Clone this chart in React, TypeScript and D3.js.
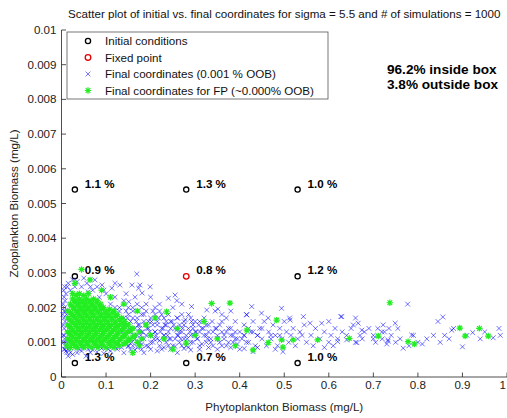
import React from "react";
import * as d3 from "d3";

// ---------- data ----------
const titleText =
  "Scatter plot of initial vs. final coordinates for sigma = 5.5 and # of simulations = 1000";
const xTicks = [0, 0.1, 0.2, 0.3, 0.4, 0.5, 0.6, 0.7, 0.8, 0.9, 1];
const yTicks = [0, 0.001, 0.002, 0.003, 0.004, 0.005, 0.006, 0.007, 0.008, 0.009, 0.01];

const initialPoints: [number, number][] = [
  [0.03, 0.0054], [0.28, 0.0054], [0.53, 0.0054],
  [0.03, 0.0029], [0.53, 0.0029],
  [0.03, 0.0004], [0.28, 0.0004], [0.53, 0.0004],
];
const fixedPoint: [number, number][] = [[0.28, 0.0029]];

const pctLabels: [number, number, string][] = [
  [0.03, 0.0054, "1.1 %"], [0.28, 0.0054, "1.3 %"], [0.53, 0.0054, "1.0 %"],
  [0.03, 0.0029, "0.9 %"], [0.28, 0.0029, "0.8 %"], [0.53, 0.0029, "1.2 %"],
  [0.03, 0.0004, "1.3 %"], [0.28, 0.0004, "0.7 %"], [0.53, 0.0004, "1.0 %"],
];

const summaryLines = ["96.2% inside box", "3.8% outside box"];
const legendLabels = [
  "Initial conditions",
  "Fixed point",
  "Final coordinates (0.001 % OOB)",
  "Final coordinates for FP (~0.000% OOB)",
];

const finalPoints: [number, number][] = [
  // left fringe
  [0.006, 0.0012], [0.008, 0.0016], [0.007, 0.002], [0.01, 0.0024], [0.009, 0.0009], [0.012, 0.0007],
  [0.011, 0.0018], [0.013, 0.0026], [0.006, 0.0014], [0.008, 0.0022], [0.01, 0.001], [0.012, 0.0013],
  [0.005, 0.0017], [0.007, 0.0011], [0.009, 0.0019], [0.006, 0.0023],
  [0.004, 0.0015], [0.005, 0.001], [0.006, 0.0019], [0.007, 0.0026], [0.004, 0.0021], [0.008, 0.0008],
  [0.015, 0.0006], [0.005, 0.0025], [0.004, 0.0012], [0.006, 0.0008], [0.003, 0.0018],
  // top fringe
  [0.015, 0.0027], [0.025, 0.0028], [0.035, 0.00275], [0.045, 0.0026], [0.057, 0.0027], [0.07, 0.0025],
  [0.08, 0.0026], [0.091, 0.00265], [0.1, 0.0024], [0.113, 0.00256], [0.12, 0.0023], [0.131, 0.00265],
  [0.14, 0.0022], [0.151, 0.00217], [0.158, 0.00265], [0.169, 0.00297], [0.173, 0.00256], [0.181, 0.00242],
  [0.176, 0.00265], [0.199, 0.0026], [0.02, 0.0025], [0.04, 0.0024], [0.06, 0.00245], [0.085, 0.0023],
  [0.11, 0.0021], [0.13, 0.002], [0.16, 0.002], [0.19, 0.0021], [0.05, 0.00285], [0.075, 0.0028],
  [0.12, 0.0027], [0.03, 0.0026], [0.065, 0.0026], [0.095, 0.0025], [0.145, 0.0024], [0.165, 0.0023],
  // bottom fringe
  [0.015, 0.0008], [0.025, 0.00065], [0.035, 0.0007], [0.045, 0.00075], [0.055, 0.0006], [0.065, 0.0007],
  [0.08, 0.00072], [0.095, 0.00068], [0.11, 0.00075], [0.125, 0.0008], [0.14, 0.0007], [0.155, 0.00078],
  [0.17, 0.00085], [0.185, 0.0007], [0.2, 0.0008], [0.215, 0.00075], [0.23, 0.00085], [0.245, 0.0008],
  [0.26, 0.0007], [0.275, 0.00082], [0.29, 0.00078], [0.03, 0.00085], [0.06, 0.0008], [0.09, 0.00082],
  [0.12, 0.00088], [0.02, 0.0007], [0.05, 0.00088], [0.1, 0.00085], [0.15, 0.00088], [0.18, 0.0008],
  [0.01, 0.00075], [0.04, 0.0008], [0.07, 0.00078], [0.085, 0.0009], [0.105, 0.0008], [0.135, 0.00085],
  [0.165, 0.00078], [0.195, 0.00088], [0.225, 0.0008], [0.255, 0.00088], [0.285, 0.00086], [0.31, 0.0008],
  [0.33, 0.00085], [0.35, 0.0008], [0.38, 0.00085], [0.41, 0.00082],
  // core mid band
  [0.13, 0.0011], [0.14, 0.0015], [0.145, 0.0019], [0.15, 0.0009], [0.155, 0.0013], [0.16, 0.0017],
  [0.165, 0.0011], [0.17, 0.0021], [0.175, 0.0014], [0.18, 0.00095], [0.185, 0.0018], [0.19, 0.0012],
  [0.195, 0.0016], [0.2, 0.001], [0.205, 0.0019], [0.21, 0.0013], [0.215, 0.0015], [0.22, 0.00105],
  [0.225, 0.0018], [0.23, 0.0012], [0.235, 0.0016], [0.24, 0.0009], [0.245, 0.0014], [0.25, 0.002],
  [0.255, 0.0011], [0.26, 0.0017], [0.265, 0.0013], [0.27, 0.0009], [0.275, 0.0015], [0.28, 0.0012],
  [0.285, 0.0018], [0.29, 0.001], [0.295, 0.0014], [0.3, 0.0016], [0.305, 0.0011], [0.31, 0.0013],
  [0.315, 0.00095], [0.32, 0.0017], [0.325, 0.0012], [0.33, 0.0015], [0.335, 0.001], [0.34, 0.0013],
  [0.345, 0.0019], [0.35, 0.0011],
  [0.135, 0.0013], [0.148, 0.0017], [0.158, 0.001], [0.168, 0.0016], [0.178, 0.0012], [0.188, 0.0015],
  [0.198, 0.0013], [0.208, 0.0011], [0.218, 0.0017], [0.228, 0.0014], [0.238, 0.0012], [0.248, 0.0016],
  [0.258, 0.00135], [0.268, 0.0011], [0.278, 0.00165], [0.288, 0.0013], [0.298, 0.0012], [0.308, 0.0015],
  [0.318, 0.0014], [0.328, 0.0011], [0.338, 0.0016], [0.348, 0.0014],
  [0.152, 0.0014], [0.162, 0.0012], [0.172, 0.0015], [0.182, 0.0013], [0.192, 0.0014], [0.202, 0.0016],
  [0.212, 0.0012], [0.222, 0.0013], [0.232, 0.0015], [0.242, 0.0011], [0.252, 0.0015], [0.262, 0.0012],
  [0.272, 0.0014], [0.282, 0.0011], [0.292, 0.0016], [0.302, 0.0013],
  [0.24, 0.00227], [0.255, 0.00236], [0.259, 0.0022], [0.292, 0.00203], [0.326, 0.00193], [0.351, 0.00196],
  [0.22, 0.0021], [0.2, 0.0023], [0.27, 0.0021],
  // dense band (second layer)
  [0.16, 0.0009], [0.19, 0.0009], [0.22, 0.0009], [0.25, 0.0009], [0.28, 0.0009], [0.31, 0.0009], [0.34, 0.0009], [0.37, 0.0009],
  [0.145, 0.001], [0.175, 0.001], [0.205, 0.001], [0.235, 0.001], [0.265, 0.001], [0.295, 0.001], [0.325, 0.001], [0.355, 0.001], [0.385, 0.001], [0.415, 0.001],
  [0.155, 0.0011], [0.185, 0.0011], [0.215, 0.0011], [0.245, 0.0011], [0.275, 0.0011], [0.305, 0.0011], [0.335, 0.0011], [0.365, 0.0011], [0.395, 0.0011],
  [0.14, 0.0012], [0.17, 0.0012], [0.2, 0.0012], [0.23, 0.0012], [0.26, 0.0012], [0.29, 0.0012], [0.32, 0.0012], [0.35, 0.0012], [0.38, 0.0012], [0.41, 0.0012], [0.44, 0.0012],
  [0.15, 0.0013], [0.18, 0.0013], [0.21, 0.0013], [0.24, 0.0013], [0.27, 0.0013], [0.3, 0.0013], [0.33, 0.0013], [0.36, 0.0013], [0.39, 0.0013],
  [0.165, 0.0014], [0.195, 0.0014], [0.225, 0.0014], [0.255, 0.0014], [0.285, 0.0014], [0.315, 0.0014], [0.345, 0.0014], [0.375, 0.0014], [0.42, 0.0014],
  [0.145, 0.0015], [0.175, 0.0015], [0.205, 0.0015], [0.235, 0.0015], [0.265, 0.0015], [0.295, 0.0015], [0.325, 0.0015],
  [0.155, 0.0016], [0.185, 0.0016], [0.215, 0.0016], [0.245, 0.0016], [0.275, 0.0016], [0.31, 0.0016], [0.36, 0.0016],
  [0.14, 0.0017], [0.17, 0.0017], [0.2, 0.0017], [0.23, 0.0017], [0.26, 0.0017], [0.29, 0.0017],
  [0.15, 0.0018], [0.18, 0.0018], [0.21, 0.0018], [0.24, 0.0018], [0.27, 0.0018],
  [0.13, 0.0019], [0.16, 0.0019], [0.19, 0.0019], [0.22, 0.0019],
  [0.12, 0.002], [0.15, 0.002], [0.18, 0.002], [0.21, 0.002],
  // middle region
  [0.355, 0.0015], [0.36, 0.0009], [0.365, 0.0012], [0.37, 0.0017], [0.375, 0.001], [0.38, 0.0014],
  [0.385, 0.0012], [0.39, 0.0016], [0.395, 0.00095], [0.4, 0.0013], [0.405, 0.0011], [0.41, 0.0015],
  [0.415, 0.0018], [0.42, 0.001], [0.425, 0.0013], [0.427, 0.00203], [0.43, 0.0016], [0.435, 0.0009],
  [0.44, 0.0012], [0.445, 0.0014], [0.449, 0.00184], [0.45, 0.0011], [0.455, 0.0016], [0.46, 0.0009],
  [0.464, 0.0017], [0.465, 0.0013], [0.47, 0.0011], [0.475, 0.0015], [0.48, 0.0012], [0.485, 0.0009],
  [0.49, 0.0014], [0.495, 0.0011], [0.5, 0.0016], [0.505, 0.0013], [0.51, 0.001], [0.513, 0.00164],
  [0.515, 0.0012], [0.52, 0.0014], [0.525, 0.0009], [0.53, 0.0011], [0.535, 0.0013], [0.54, 0.0012],
  [0.545, 0.0015], [0.55, 0.001],
  [0.37, 0.0013], [0.39, 0.0011], [0.41, 0.0012], [0.43, 0.0013], [0.45, 0.0014], [0.47, 0.0012],
  [0.49, 0.0012], [0.416, 0.00179], [0.36, 0.0018], [0.38, 0.0019], [0.4, 0.0008], [0.44, 0.00085],
  [0.48, 0.0008], [0.494, 0.00198], [0.43, 0.00073], [0.497, 0.00073],
  // right tail
  [0.543, 0.00174], [0.558, 0.00155], [0.584, 0.00155], [0.512, 0.0017], [0.627, 0.00174], [0.777, 0.0021],
  [0.856, 0.00173], [0.845, 0.0016], [0.876, 0.00135], [0.982, 0.0014], [0.9, 0.00087], [0.767, 0.00083],
  [0.969, 0.00113], [0.923, 0.00128],
  [0.56, 0.0012], [0.565, 0.0009], [0.57, 0.0014], [0.58, 0.0011], [0.59, 0.0013], [0.6, 0.001],
  [0.605, 0.0012], [0.61, 0.0009], [0.62, 0.0011], [0.63, 0.0013], [0.64, 0.0012], [0.65, 0.0014],
  [0.655, 0.0015], [0.66, 0.001], [0.67, 0.0012], [0.675, 0.0011], [0.68, 0.0013], [0.69, 0.0014],
  [0.7, 0.0012], [0.705, 0.001], [0.71, 0.0014], [0.72, 0.0011], [0.725, 0.0013], [0.73, 0.00095],
  [0.74, 0.0012], [0.75, 0.001], [0.76, 0.0011], [0.78, 0.0009], [0.79, 0.0012], [0.8, 0.001],
  [0.81, 0.00095], [0.82, 0.0011], [0.835, 0.0012], [0.85, 0.001], [0.86, 0.0012], [0.87, 0.0011],
  [0.88, 0.0014], [0.91, 0.0012], [0.94, 0.0011], [0.95, 0.0013], [0.985, 0.0012], [0.6, 0.0016],
  [0.66, 0.0017], [0.59, 0.00085],
  [0.629, 0.00174], [0.614, 0.0014], [0.666, 0.00155], [0.674, 0.00135], [0.722, 0.0015], [0.735, 0.0014],
  [0.749, 0.00155], [0.755, 0.0014], [0.786, 0.00121], [0.64, 0.00107], [0.7, 0.0011], [0.733, 0.00107],
  [0.733, 0.00103], [0.719, 0.0013], [0.62, 0.00102], [0.663, 0.00099],
];

const fpFinalPoints: [number, number][] = [
  // dense core
  [0.02, 0.00085], [0.035, 0.00085], [0.05, 0.00085], [0.068, 0.00085], [0.082, 0.00085], [0.1, 0.00085], [0.118, 0.00085],
  [0.027, 0.00095], [0.043, 0.00095], [0.058, 0.00095], [0.075, 0.00095], [0.09, 0.00095], [0.108, 0.00095], [0.125, 0.00095], [0.14, 0.00095],
  [0.018, 0.00105], [0.033, 0.00105], [0.048, 0.00105], [0.064, 0.00105], [0.079, 0.00105], [0.095, 0.00105], [0.112, 0.00105], [0.13, 0.00105], [0.152, 0.00105],
  [0.025, 0.00115], [0.04, 0.00115], [0.055, 0.00115], [0.07, 0.00115], [0.086, 0.00115], [0.102, 0.00115], [0.12, 0.00115], [0.138, 0.00115], [0.16, 0.00115],
  [0.017, 0.00125], [0.032, 0.00125], [0.047, 0.00125], [0.062, 0.00125], [0.078, 0.00125], [0.093, 0.00125], [0.11, 0.00125], [0.127, 0.00125], [0.145, 0.00125],
  [0.024, 0.00135], [0.039, 0.00135], [0.054, 0.00135], [0.069, 0.00135], [0.085, 0.00135], [0.1, 0.00135], [0.117, 0.00135], [0.135, 0.00135], [0.155, 0.00135],
  [0.018, 0.00145], [0.033, 0.00145], [0.048, 0.00145], [0.063, 0.00145], [0.077, 0.00145], [0.092, 0.00145], [0.108, 0.00145], [0.125, 0.00145], [0.142, 0.00145],
  [0.026, 0.00155], [0.041, 0.00155], [0.056, 0.00155], [0.071, 0.00155], [0.087, 0.00155], [0.103, 0.00155], [0.12, 0.00155], [0.136, 0.00155],
  [0.019, 0.00165], [0.034, 0.00165], [0.049, 0.00165], [0.064, 0.00165], [0.08, 0.00165], [0.096, 0.00165], [0.113, 0.00165], [0.13, 0.00165],
  [0.027, 0.00175], [0.042, 0.00175], [0.057, 0.00175], [0.072, 0.00175], [0.088, 0.00175], [0.105, 0.00175], [0.122, 0.00175],
  [0.02, 0.00185], [0.035, 0.00185], [0.05, 0.00185], [0.066, 0.00185], [0.082, 0.00185], [0.098, 0.00185], [0.115, 0.00185],
  [0.028, 0.00195], [0.043, 0.00195], [0.058, 0.00195], [0.074, 0.00195], [0.09, 0.00195], [0.108, 0.00195],
  [0.022, 0.00205], [0.037, 0.00205], [0.052, 0.00205], [0.068, 0.00205], [0.085, 0.00205],
  [0.03, 0.00215], [0.046, 0.00215], [0.062, 0.00215], [0.079, 0.00215],
  [0.025, 0.00225], [0.04, 0.00225], [0.056, 0.00225], [0.072, 0.00225],
  [0.033, 0.00235], [0.05, 0.00235],
  // dense core, second layer
  [0.012, 0.0009], [0.03, 0.0009], [0.045, 0.0009], [0.06, 0.0009], [0.078, 0.0009], [0.093, 0.0009], [0.11, 0.0009], [0.13, 0.0009],
  [0.022, 0.001], [0.04, 0.001], [0.056, 0.001], [0.072, 0.001], [0.088, 0.001], [0.105, 0.001], [0.12, 0.001], [0.145, 0.001], [0.17, 0.001],
  [0.014, 0.0011], [0.032, 0.0011], [0.05, 0.0011], [0.066, 0.0011], [0.082, 0.0011], [0.098, 0.0011], [0.115, 0.0011], [0.132, 0.0011], [0.15, 0.0011], [0.18, 0.0011],
  [0.022, 0.0012], [0.04, 0.0012], [0.058, 0.0012], [0.074, 0.0012], [0.09, 0.0012], [0.106, 0.0012], [0.122, 0.0012], [0.14, 0.0012], [0.165, 0.0012],
  [0.014, 0.0013], [0.03, 0.0013], [0.046, 0.0013], [0.062, 0.0013], [0.078, 0.0013], [0.095, 0.0013], [0.112, 0.0013], [0.128, 0.0013], [0.148, 0.0013], [0.175, 0.0013],
  [0.022, 0.0014], [0.04, 0.0014], [0.056, 0.0014], [0.072, 0.0014], [0.088, 0.0014], [0.104, 0.0014], [0.12, 0.0014], [0.138, 0.0014], [0.16, 0.0014],
  [0.014, 0.0015], [0.032, 0.0015], [0.048, 0.0015], [0.064, 0.0015], [0.08, 0.0015], [0.096, 0.0015], [0.112, 0.0015], [0.13, 0.0015], [0.15, 0.0015],
  [0.024, 0.0016], [0.04, 0.0016], [0.056, 0.0016], [0.072, 0.0016], [0.088, 0.0016], [0.104, 0.0016], [0.122, 0.0016], [0.142, 0.0016],
  [0.014, 0.0017], [0.032, 0.0017], [0.048, 0.0017], [0.064, 0.0017], [0.08, 0.0017], [0.097, 0.0017], [0.113, 0.0017], [0.135, 0.0017],
  [0.024, 0.0018], [0.04, 0.0018], [0.056, 0.0018], [0.072, 0.0018], [0.09, 0.0018], [0.106, 0.0018], [0.125, 0.0018],
  [0.014, 0.0019], [0.035, 0.0019], [0.05, 0.0019], [0.066, 0.0019], [0.082, 0.0019], [0.1, 0.0019], [0.118, 0.0019],
  [0.028, 0.002], [0.044, 0.002], [0.06, 0.002], [0.076, 0.002], [0.094, 0.002],
  [0.02, 0.0021], [0.038, 0.0021], [0.054, 0.0021], [0.07, 0.0021], [0.088, 0.0021],
  [0.032, 0.0022], [0.048, 0.0022], [0.064, 0.0022], [0.08, 0.0022],
  [0.04, 0.0024], [0.06, 0.0024], [0.025, 0.0024],
  // scattered
  [0.045, 0.0031], [0.064, 0.0028], [0.03, 0.0027], [0.09, 0.0025], [0.11, 0.0023], [0.14, 0.0021],
  [0.17, 0.0019], [0.19, 0.0015], [0.2, 0.0012], [0.175, 0.0009], [0.21, 0.0017], [0.23, 0.0011],
  [0.236, 0.00188], [0.26, 0.0014], [0.28, 0.00098], [0.3, 0.0012], [0.32, 0.0016], [0.337, 0.00212],
  [0.378, 0.00213], [0.35, 0.0011], [0.39, 0.0009], [0.416, 0.00135], [0.43, 0.00078], [0.464, 0.00099],
  [0.483, 0.00164], [0.494, 0.00107], [0.497, 0.00086], [0.52, 0.00107], [0.575, 0.00107], [0.646, 0.00111],
  [0.711, 0.00118], [0.737, 0.00214], [0.778, 0.00102], [0.792, 0.00095], [0.894, 0.00141], [0.906, 0.00118],
  [0.938, 0.0014], [0.958, 0.00118], [0.25, 0.0008], [0.16, 0.0007],
];

// ---------- layout ----------
const W = 507;
const H = 418;
const FONT = "'Liberation Sans', Arial, Helvetica, sans-serif";
const FS = 11.6;

export default function App() {
  const x = d3.scaleLinear().domain([0, 1]).range([61.5, 507]);
  const y = d3.scaleLinear().domain([0, 0.01]).range([377, 30]);
  const [x0, x1] = x.range();
  const [y0, y1] = y.range();
  const fmtX = (d: number) => (d === 0 ? "0" : d === 1 ? "1" : d3.format(".1f")(d));
  const fmtY = (d: number) => (d === 0 ? "0" : String(+d.toFixed(3)));

  const xMark = (cx: number, cy: number, s: number) =>
    `M${cx - s},${cy - s}L${cx + s},${cy + s}M${cx - s},${cy + s}L${cx + s},${cy - s}`;
  const star = (cx: number, cy: number, s: number) => {
    const d = s * 0.72;
    return `M${cx - s},${cy}L${cx + s},${cy}M${cx},${cy - s}L${cx},${cy + s}M${cx - d},${cy - d}L${cx + d},${cy + d}M${cx - d},${cy + d}L${cx + d},${cy - d}`;
  };

  const blueColor = "#0000ff";
  const greenColor = "#22ee22";

  const legX = 67, legY = 32, legW = 261, legH = 67;
  const legRows = [41, 57.5, 74, 90.5];

  return (
    <svg
      width={W}
      height={H}
      style={{ position: "absolute", left: 0, top: 0, background: "#fff" }}
      fontFamily={FONT}
    >
      <rect x={0} y={0} width={W} height={H} fill="#fff" />
      {/* title */}
      <text x={(x0 + x1) / 2} y={17.5} fontSize={FS} textAnchor="middle" fill="#111">
        {titleText}
      </text>

      {/* initial conditions */}
      {initialPoints.map(([px, py], i) => (
        <circle key={"ic" + i} cx={x(px)} cy={y(py)} r={2.6} fill="none" stroke="#000" strokeWidth={1.3} />
      ))}
      {fixedPoint.map(([px, py], i) => (
        <circle key={"fp" + i} cx={x(px)} cy={y(py)} r={2.8} fill="none" stroke="#e00000" strokeWidth={1.3} />
      ))}

      {/* final coordinates */}
      <g stroke={blueColor} strokeOpacity={0.58} strokeWidth={0.95} fill="none">
        {finalPoints.map(([px, py], i) => (
          <path key={"b" + i} d={xMark(x(px), y(py), 2.4)} />
        ))}
      </g>
      <g stroke={greenColor} strokeWidth={1.2} fill="none">
        {fpFinalPoints.map(([px, py], i) => (
          <path key={"g" + i} d={star(x(px), y(py), 3.2)} />
        ))}
      </g>

      {/* percentage labels */}
      {pctLabels.map(([px, py, t], i) => (
        <text key={"pl" + i} x={x(px) + 10} y={y(py) - 2} fontSize={FS} fontWeight="bold" fill="#000">
          {t}
        </text>
      ))}

      {/* axes */}
      <g stroke="#222" strokeWidth={0.8}>
        <line x1={x0} y1={y0} x2={x1} y2={y0} />
        <line x1={x0} y1={y0} x2={x0} y2={y1} />
        {xTicks.map((t) => (
          <line key={"xt" + t} x1={x(t)} x2={x(t)} y1={y0} y2={y0 - 4.5} />
        ))}
        {yTicks.map((t) => (
          <line key={"yt" + t} x1={x0} x2={x0 + 4.5} y1={y(t)} y2={y(t)} />
        ))}
      </g>
      {xTicks.map((t, i) => (
        <text
          key={"xl" + t}
          x={i === xTicks.length - 1 ? W - 1 : x(t)}
          y={y0 + 11.5}
          fontSize={FS}
          textAnchor={i === xTicks.length - 1 ? "end" : "middle"}
          fill="#222"
        >
          {fmtX(t)}
        </text>
      ))}
      {yTicks.map((t) => (
        <text key={"yl" + t} x={x0 - 5} y={y(t) + 4} fontSize={FS} textAnchor="end" fill="#222">
          {fmtY(t)}
        </text>
      ))}
      <text x={(x0 + x1) / 2} y={411} fontSize={FS} textAnchor="middle" fill="#222">
        Phytoplankton Biomass (mg/L)
      </text>
      <text
        transform={`translate(18,${(y0 + y1) / 2}) rotate(-90)`}
        fontSize={FS}
        textAnchor="middle"
        fill="#222"
      >
        Zooplankton Biomass (mg/L)
      </text>

      {/* summary text */}
      {summaryLines.map((t, i) => (
        <text key={"s" + i} x={387} y={74 + i * 15} fontSize={13.6} fontWeight="bold" fill="#000">
          {t}
        </text>
      ))}

      {/* legend */}
      <rect x={legX} y={legY} width={legW} height={legH} fill="#fff" stroke="#555" strokeWidth={0.8} />
      <circle cx={88} cy={legRows[0]} r={2.6} fill="none" stroke="#000" strokeWidth={1.3} />
      <circle cx={88} cy={legRows[1]} r={2.8} fill="none" stroke="#e00000" strokeWidth={1.3} />
      <path d={xMark(88, legRows[2], 2.4)} stroke={blueColor} strokeOpacity={0.58} strokeWidth={0.95} />
      <path d={star(88, legRows[3], 3.2)} stroke={greenColor} strokeWidth={1.2} />
      {legendLabels.map((t, i) => (
        <text key={"lg" + i} x={105} y={legRows[i] + 4} fontSize={FS} fill="#111">
          {t}
        </text>
      ))}
    </svg>
  );
}
